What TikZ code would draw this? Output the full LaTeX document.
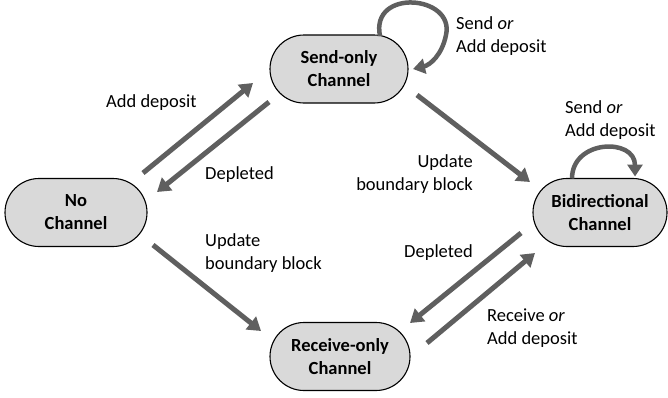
\documentclass[tikz,border=0pt]{standalone}
\usepackage{fontspec}
\setmainfont{Carlito}
\usetikzlibrary{arrows.meta,calc}
\definecolor{boxfill}{RGB}{217,217,217}
\definecolor{arrgray}{RGB}{95,95,95}
\tikzset{
  state/.style={draw=black, line width=1.1pt, fill=boxfill, rounded corners=34pt,
    minimum width=140pt, minimum height=68pt, inner sep=0pt, align=center,
    font=\fontsize{18.5}{23}\selectfont\bfseries},
  trans/.style={draw=arrgray, line width=5pt, -{Triangle[length=13pt,width=16pt]}},
  loopar/.style={draw=arrgray, line width=4.5pt, -{Triangle[length=12pt,width=15pt]}},
  lbl/.style={inner sep=0pt, font=\fontsize{18.5}{23}\selectfont}
}
\begin{document}
\begin{tikzpicture}[x=1pt,y=-1pt]
\useasboundingbox (0,0) rectangle (668,397);
\node[state, minimum width=142pt] (none) at (76,212.5) {No\\Channel};
\node[state, minimum width=138pt] (send) at (339,69) {Send-only\\Channel};
\node[state, minimum width=134pt] (bidi) at (600,212.5) {Bidirectional\\Channel};
\node[state] (recv) at (340,356.5) {Receive-only\\Channel};

\draw[trans] ($(none)+(67,-39.5)$) -- ($(send)+(-86,14)$);
\draw[trans] ($(send)+(-70,33)$) -- ($(none)+(81,-20.5)$);
\draw[trans] ($(send)+(78,26)$) -- ($(bidi)+(-70,-30.5)$);
\draw[trans] ($(none)+(77,32.5)$) -- ($(recv)+(-79,-25.5)$);
\draw[trans] ($(bidi)+(-79,20.5)$) -- ($(recv)+(70,-33.5)$);
\draw[trans] ($(recv)+(87,-13.5)$) -- ($(bidi)+(-65,40.5)$);

\draw[loopar] ($(send)+(41,-33)$) .. controls ($(send)+(31,-81)$) and ($(send)+(116,-74)$) .. ($(send)+(107,-34)$)
  .. controls ($(send)+(103,-14)$) and ($(send)+(91,-4)$) .. ($(send)+(74,0)$);
\draw[loopar] ($(bidi)+(-28,-34)$) .. controls ($(bidi)+(-28,-73)$) and ($(bidi)+(35,-75)$) .. ($(bidi)+(35,-36)$);

\node[lbl, anchor=west] (l1) at (106,103) {Add deposit};
\node[lbl, anchor=west] (l2) at (205,175) {Depleted};
\node[lbl, anchor=west, align=left] (l3) at (456,36) {Send \emph{or}\\Add deposit};
\node[lbl, anchor=west, align=left] (l4) at (565,120) {Send \emph{or}\\Add deposit};
\node[lbl, anchor=east, align=right] (l5) at (473,174) {Update\\boundary block};
\node[lbl, anchor=west, align=left] (l6) at (205,253) {Update\\boundary block};
\node[lbl, anchor=west] (l7) at (404,253) {Depleted};
\node[lbl, anchor=west, align=left] (l8) at (487,328.5) {Receive \emph{or}\\Add deposit};
\end{tikzpicture}
\end{document}
